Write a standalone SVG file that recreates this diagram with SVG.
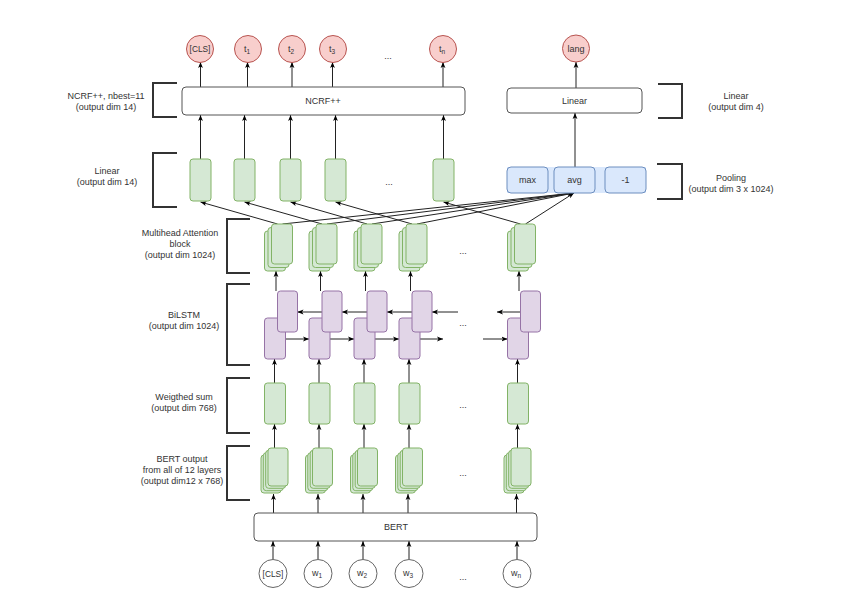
<svg xmlns="http://www.w3.org/2000/svg" width="852" height="604" viewBox="0 0 852 604">
<style>
text{font-family:"Liberation Sans",Arial,sans-serif;font-size:9px;fill:#333;text-anchor:middle}
.sub{font-size:6.5px}
.sm{font-size:8.3px}
.red{fill:#f8cecc;stroke:#b85450;stroke-width:1}
.inp{fill:#fff;stroke:#666;stroke-width:1}
.grn{fill:#d5e8d4;stroke:#82b366;stroke-width:1}
.pur{fill:#e1d5e7;stroke:#9673a6;stroke-width:1}
.blu{fill:#dae8fc;stroke:#6c8ebf;stroke-width:1}
.box{fill:#fff;stroke:#555;stroke-width:1}
.br{fill:none;stroke:#333;stroke-width:2}
.ar{fill:none;stroke:#222;stroke-width:1;marker-end:url(#ah)}
</style>
<defs>
<marker id="ah" viewBox="0 0 10 10" refX="10" refY="5" markerWidth="6" markerHeight="6" markerUnits="userSpaceOnUse" orient="auto">
<path d="M0,1 L10,5 L0,9 L2.5,5 z" fill="#000"/>
</marker>
</defs>
<rect width="852" height="604" fill="#fff"/>

<g id="labels">
<path class="br" d="M177,83 H153 V117 H177"/>
<text x="106" y="99">NCRF++, nbest=11</text>
<text x="106" y="110">(output dim 14)</text>
<path class="br" d="M177,153 H153 V207 H177"/>
<text x="107" y="174">Linear</text>
<text x="107" y="185">(output dim 14)</text>
<path class="br" d="M250,219 H227 V273 H250"/>
<text x="180" y="236">Multihead Attention</text>
<text x="180" y="247">block</text>
<text x="180" y="258">(output dim 1024)</text>
<path class="br" d="M250,284 H227 V365 H250"/>
<text x="184" y="318">BiLSTM</text>
<text x="184" y="329">(output dim 1024)</text>
<path class="br" d="M250,378 H227 V433 H250"/>
<text x="184" y="400">Weigthed sum</text>
<text x="184" y="411">(output dim 768)</text>
<path class="br" d="M250,446 H227 V500 H250"/>
<text x="182" y="462">BERT output</text>
<text x="182" y="473">from all of 12 layers</text>
<text x="182" y="484">(output dim12 x 768)</text>
<path class="br" d="M658,84 H682 V118 H658"/>
<text x="736" y="99">Linear</text>
<text x="736" y="110">(output dim 4)</text>
<path class="br" d="M657,164 H682 V199 H657"/>
<text x="731" y="181">Pooling</text>
<text x="731" y="192">(output dim 3 x 1024)</text>
</g>

<g id="connectors">
<path class="ar" d="M273,559.5 V541"/>
<path class="ar" d="M318,559.5 V541"/>
<path class="ar" d="M363,559.5 V541"/>
<path class="ar" d="M409,559.5 V541"/>
<path class="ar" d="M517,559.5 V541"/>
<path class="ar" d="M273.5,513 V494"/>
<path class="ar" d="M318,513 V494"/>
<path class="ar" d="M363,513 V494"/>
<path class="ar" d="M408,513 V494"/>
<path class="ar" d="M516.5,513 V494"/>
<path class="ar" d="M274.5,448 V424"/>
<path class="ar" d="M319,448 V424"/>
<path class="ar" d="M364,448 V424"/>
<path class="ar" d="M409,448 V424"/>
<path class="ar" d="M517.5,448 V424"/>
<path class="ar" d="M274.5,383 V359"/>
<path class="ar" d="M319,383 V359"/>
<path class="ar" d="M364,383 V359"/>
<path class="ar" d="M409,383 V359"/>
<path class="ar" d="M517.5,383 V359"/>
<path class="ar" d="M285.5,339 H309"/>
<path class="ar" d="M330,339 H354"/>
<path class="ar" d="M375,339 H399"/>
<path class="ar" d="M420,339 H443"/>
<path class="ar" d="M483,339 H507.5"/>
<path class="ar" d="M322,312 H297.5"/>
<path class="ar" d="M367,312 H342"/>
<path class="ar" d="M412,312 H387"/>
<path class="ar" d="M458,312 H432"/>
<path class="ar" d="M520.5,312 H497"/>
<path class="ar" d="M276,291 V271"/>
<path class="ar" d="M320.5,291 V271"/>
<path class="ar" d="M365.5,291 V271"/>
<path class="ar" d="M410.5,291 V271"/>
<path class="ar" d="M519,291 V271"/>
<path class="ar" d="M277.5,224 L200.5,202"/>
<path class="ar" d="M322,224 L244.5,202"/>
<path class="ar" d="M367,224 L290.5,202"/>
<path class="ar" d="M412,224 L335.5,202"/>
<path class="ar" d="M520.5,224 L443.5,202"/>
<path class="ar" d="M282.5,224 L574,193"/>
<path class="ar" d="M327,224 L574,193"/>
<path class="ar" d="M372,224 L574,193"/>
<path class="ar" d="M417,224 L574,193"/>
<path class="ar" d="M525.5,224 L574,193"/>
<path class="ar" d="M200.5,159 V115"/>
<path class="ar" d="M244.5,159 V115"/>
<path class="ar" d="M290.5,159 V115"/>
<path class="ar" d="M335.5,159 V115"/>
<path class="ar" d="M443.5,159 V115"/>
<path class="ar" d="M200.5,87 V62"/>
<path class="ar" d="M247.5,87 V62"/>
<path class="ar" d="M292,87 V62"/>
<path class="ar" d="M332.5,87 V62"/>
<path class="ar" d="M443,87 V62"/>
<path class="ar" d="M575,167 V113"/>
<path class="ar" d="M576,88 V62"/>
</g>

<g id="inputs">
<g id="in-cls"><circle class="inp" cx="273" cy="573.5" r="14"/><text class="sm" x="273" y="576.5">[CLS]</text></g>
<g id="in-w1"><circle class="inp" cx="318" cy="573.5" r="14"/><text x="317" y="576">w<tspan class="sub" dy="2">1</tspan></text></g>
<g id="in-w2"><circle class="inp" cx="363" cy="573.5" r="14"/><text x="362" y="576">w<tspan class="sub" dy="2">2</tspan></text></g>
<g id="in-w3"><circle class="inp" cx="409" cy="573.5" r="14"/><text x="408" y="576">w<tspan class="sub" dy="2">3</tspan></text></g>
<g id="in-wn"><circle class="inp" cx="517" cy="573.5" r="14"/><text x="516" y="576">w<tspan class="sub" dy="2">n</tspan></text></g>
<text x="463" y="580">...</text>
</g>

<g id="bert"><rect class="box" x="254" y="513" width="283" height="28" rx="4"/><text x="396" y="530">BERT</text></g>

<g id="bert-output">
<g transform="translate(264.5,0)"><rect class="grn" x="-3.5" y="455" width="20" height="38" rx="3"/><rect class="grn" x="-1.2" y="452.7" width="20" height="38" rx="3"/><rect class="grn" x="1.2" y="450.3" width="20" height="38" rx="3"/><rect class="grn" x="3.5" y="448" width="20" height="38" rx="3"/></g>
<g transform="translate(309,0)"><rect class="grn" x="-3.5" y="455" width="20" height="38" rx="3"/><rect class="grn" x="-1.2" y="452.7" width="20" height="38" rx="3"/><rect class="grn" x="1.2" y="450.3" width="20" height="38" rx="3"/><rect class="grn" x="3.5" y="448" width="20" height="38" rx="3"/></g>
<g transform="translate(354,0)"><rect class="grn" x="-3.5" y="455" width="20" height="38" rx="3"/><rect class="grn" x="-1.2" y="452.7" width="20" height="38" rx="3"/><rect class="grn" x="1.2" y="450.3" width="20" height="38" rx="3"/><rect class="grn" x="3.5" y="448" width="20" height="38" rx="3"/></g>
<g transform="translate(399,0)"><rect class="grn" x="-3.5" y="455" width="20" height="38" rx="3"/><rect class="grn" x="-1.2" y="452.7" width="20" height="38" rx="3"/><rect class="grn" x="1.2" y="450.3" width="20" height="38" rx="3"/><rect class="grn" x="3.5" y="448" width="20" height="38" rx="3"/></g>
<g transform="translate(507.5,0)"><rect class="grn" x="-3.5" y="455" width="20" height="38" rx="3"/><rect class="grn" x="-1.2" y="452.7" width="20" height="38" rx="3"/><rect class="grn" x="1.2" y="450.3" width="20" height="38" rx="3"/><rect class="grn" x="3.5" y="448" width="20" height="38" rx="3"/></g>
<text x="463" y="476">...</text>
</g>

<g id="weighted-sum">
<rect class="grn" x="264.5" y="383" width="21" height="41" rx="3"/>
<rect class="grn" x="309" y="383" width="21" height="41" rx="3"/>
<rect class="grn" x="354" y="383" width="21" height="41" rx="3"/>
<rect class="grn" x="399" y="383" width="21" height="41" rx="3"/>
<rect class="grn" x="507.5" y="383" width="21" height="41" rx="3"/>
<text x="463" y="408">...</text>
</g>

<g id="bilstm">
<rect class="pur" x="264.5" y="318" width="21" height="41" rx="3"/><rect class="pur" x="277.5" y="291" width="20" height="41" rx="3"/>
<rect class="pur" x="309" y="318" width="21" height="41" rx="3"/><rect class="pur" x="322" y="291" width="20" height="41" rx="3"/>
<rect class="pur" x="354" y="318" width="21" height="41" rx="3"/><rect class="pur" x="367" y="291" width="20" height="41" rx="3"/>
<rect class="pur" x="399" y="318" width="21" height="41" rx="3"/><rect class="pur" x="412" y="291" width="20" height="41" rx="3"/>
<rect class="pur" x="507.5" y="318" width="21" height="41" rx="3"/><rect class="pur" x="520.5" y="291" width="20" height="41" rx="3"/>
<text x="463" y="326">...</text>
</g>

<g id="attention">
<g transform="translate(264.5,0)"><rect class="grn" x="0" y="231" width="21" height="40" rx="3"/><rect class="grn" x="3.5" y="227.5" width="21" height="40" rx="3"/><rect class="grn" x="7" y="224" width="21" height="40" rx="3"/></g>
<g transform="translate(309,0)"><rect class="grn" x="0" y="231" width="21" height="40" rx="3"/><rect class="grn" x="3.5" y="227.5" width="21" height="40" rx="3"/><rect class="grn" x="7" y="224" width="21" height="40" rx="3"/></g>
<g transform="translate(354,0)"><rect class="grn" x="0" y="231" width="21" height="40" rx="3"/><rect class="grn" x="3.5" y="227.5" width="21" height="40" rx="3"/><rect class="grn" x="7" y="224" width="21" height="40" rx="3"/></g>
<g transform="translate(399,0)"><rect class="grn" x="0" y="231" width="21" height="40" rx="3"/><rect class="grn" x="3.5" y="227.5" width="21" height="40" rx="3"/><rect class="grn" x="7" y="224" width="21" height="40" rx="3"/></g>
<g transform="translate(507.5,0)"><rect class="grn" x="0" y="231" width="21" height="40" rx="3"/><rect class="grn" x="3.5" y="227.5" width="21" height="40" rx="3"/><rect class="grn" x="7" y="224" width="21" height="40" rx="3"/></g>
<text x="463" y="254">...</text>
</g>

<g id="linear-tokens">
<rect class="grn" x="190" y="159" width="21" height="42" rx="3"/>
<rect class="grn" x="234" y="159" width="21" height="42" rx="3"/>
<rect class="grn" x="280" y="159" width="21" height="42" rx="3"/>
<rect class="grn" x="325" y="159" width="21" height="42" rx="3"/>
<rect class="grn" x="433" y="159" width="21" height="42" rx="3"/>
<text x="389" y="185">...</text>
</g>

<g id="pooling">
<rect x="507" y="167" width="139" height="26" fill="#dae8fc"/>
<rect class="blu" x="507" y="167" width="41" height="26" rx="4"/><text x="527.5" y="183">max</text>
<rect class="blu" x="554" y="167" width="41" height="26" rx="4"/><text x="574.5" y="183">avg</text>
<rect class="blu" x="605" y="167" width="41" height="26" rx="4"/><text x="625.5" y="183">-1</text>
</g>

<g id="linear-lang"><rect class="box" x="507" y="88" width="135" height="25" rx="4"/><text x="574.5" y="104">Linear</text></g>

<g id="ncrf"><rect class="box" x="182" y="87" width="283" height="28" rx="4"/><text x="323" y="104">NCRF++</text></g>

<g id="outputs">
<g id="out-cls"><circle class="red" cx="200" cy="49" r="13.5"/><text class="sm" x="200" y="52">[CLS]</text></g>
<g id="out-t1"><circle class="red" cx="248" cy="49" r="13.5"/><text x="247" y="51.5">t<tspan class="sub" dy="2">1</tspan></text></g>
<g id="out-t2"><circle class="red" cx="292" cy="49" r="13.5"/><text x="291" y="51.5">t<tspan class="sub" dy="2">2</tspan></text></g>
<g id="out-t3"><circle class="red" cx="333" cy="49" r="13.5"/><text x="332" y="51.5">t<tspan class="sub" dy="2">3</tspan></text></g>
<g id="out-tn"><circle class="red" cx="443" cy="49" r="13.5"/><text x="442" y="51.5">t<tspan class="sub" dy="2">n</tspan></text></g>
<text x="388" y="59">...</text>
<g id="out-lang"><circle class="red" cx="576" cy="48.5" r="13.5"/><text x="576" y="51.5">lang</text></g>
</g>
</svg>
